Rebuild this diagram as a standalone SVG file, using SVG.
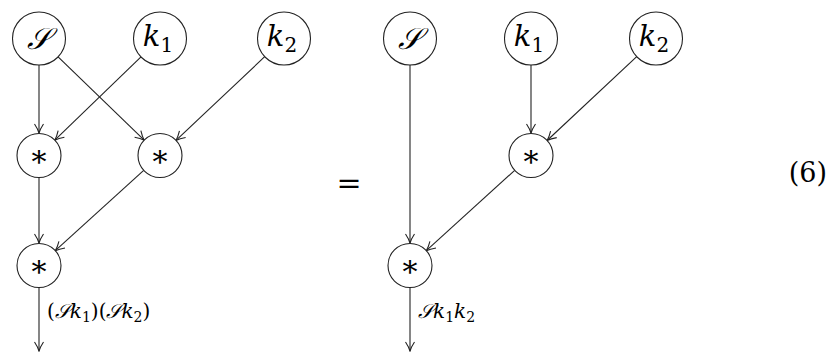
<svg xmlns="http://www.w3.org/2000/svg" width="829" height="352" viewBox="0 0 829 352">
<style>
.n{fill:#fff;stroke:#222;stroke-width:1.1}
.e{fill:none;stroke:#222;stroke-width:1.1;marker-end:url(#arr)}
.lbl{text-anchor:middle}
.it{font-style:italic}
.ast{font-size:30px;text-anchor:middle}
.k{font-size:29px;text-anchor:middle}
.s{font-size:20px}
</style>
<defs>
<marker id="arr" markerUnits="userSpaceOnUse" viewBox="-11 -6 12 12" markerWidth="12" markerHeight="12" refX="0" refY="0" orient="auto">
<path d="M-9,-4.5 Q-4,-1.2 0,0 Q-4,1.2 -9,4.5" fill="none" stroke="#222" stroke-width="1.1"/>
</marker>
</defs>
<g id="connectors">
<line class="e" x1="39" y1="65" x2="39" y2="133"/>
<line class="e" x1="58.1" y1="56.9" x2="144.2" y2="140.2"/>
<line class="e" x1="141" y1="56.9" x2="54.8" y2="140.2"/>
<line class="e" x1="264.7" y1="56.7" x2="176" y2="140.4"/>
<line class="e" x1="39" y1="178" x2="39" y2="243"/>
<line class="e" x1="143.7" y1="170.3" x2="55.3" y2="250.7"/>
<line class="e" x1="39" y1="288" x2="39" y2="351"/>
<line class="e" x1="410" y1="65" x2="410" y2="243"/>
<line class="e" x1="531" y1="65" x2="531" y2="133"/>
<line class="e" x1="636.7" y1="56.6" x2="547.1" y2="140.5"/>
<line class="e" x1="514.7" y1="170.3" x2="426.3" y2="250.7"/>
<line class="e" x1="410" y1="288" x2="410" y2="351"/>
</g>
<g font-family="DejaVu Serif, serif" fill="#000">
<g id="L_S"><circle class="n" cx="39" cy="38.5" r="26.5"/><text class="lbl it" x="38.5" y="49" font-size="30">𝒮</text></g>
<g id="L_k1"><circle class="n" cx="160" cy="38.5" r="26.5"/><text class="k" x="158" y="46"><tspan class="it">k</tspan><tspan class="s" dy="5.5">1</tspan></text></g>
<g id="L_k2"><circle class="n" cx="284" cy="38.5" r="26.5"/><text class="k" x="282" y="46"><tspan class="it">k</tspan><tspan class="s" dy="5.5">2</tspan></text></g>
<g id="L_m1"><circle class="n" cx="39" cy="155.5" r="22"/><text class="ast" x="39" y="172">*</text></g>
<g id="L_m2"><circle class="n" cx="160" cy="155.5" r="22"/><text class="ast" x="160" y="172">*</text></g>
<g id="L_m3"><circle class="n" cx="39" cy="265.5" r="22"/><text class="ast" x="39" y="282">*</text></g>
<text x="47" y="318" font-size="20">(<tspan class="it">𝒮k</tspan><tspan font-size="14" dy="4">1</tspan><tspan dy="-4">)(</tspan><tspan class="it">𝒮k</tspan><tspan font-size="14" dy="4">2</tspan><tspan dy="-4">)</tspan></text>
<text x="349" y="193" font-size="30" text-anchor="middle">=</text>
<g id="R_S"><circle class="n" cx="410" cy="38.5" r="26.5"/><text class="lbl it" x="409.5" y="49" font-size="30">𝒮</text></g>
<g id="R_k1"><circle class="n" cx="531" cy="38.5" r="26.5"/><text class="k" x="529" y="46"><tspan class="it">k</tspan><tspan class="s" dy="5.5">1</tspan></text></g>
<g id="R_k2"><circle class="n" cx="656" cy="38.5" r="26.5"/><text class="k" x="654" y="46"><tspan class="it">k</tspan><tspan class="s" dy="5.5">2</tspan></text></g>
<g id="R_m1"><circle class="n" cx="531" cy="155.5" r="22"/><text class="ast" x="531" y="172">*</text></g>
<g id="R_m2"><circle class="n" cx="410" cy="265.5" r="22"/><text class="ast" x="410" y="282">*</text></g>
<text x="418" y="318" font-size="20"><tspan class="it">𝒮k</tspan><tspan font-size="14" dy="4">1</tspan><tspan class="it" dy="-4">k</tspan><tspan font-size="14" dy="4">2</tspan></text>
<text x="827" y="182" font-size="27" text-anchor="end">(6)</text>
</g>
</svg>
